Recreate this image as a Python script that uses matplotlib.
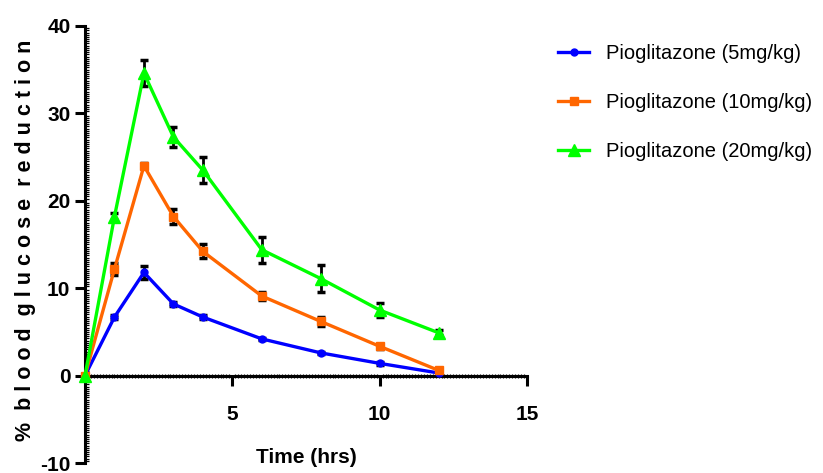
import numpy as np
from matplotlib import pyplot as plt
from matplotlib.ticker import MultipleLocator

# time points (hrs)
time = [0, 1, 2, 3, 4, 6, 8, 10, 12]

# % blood glucose reduction, mean and error
pio5 = [0, 6.7, 11.8, 8.2, 6.7, 4.2, 2.6, 1.4, 0.3]
pio5_err = [0, 0.2, 0.7, 0.2, 0.2, 0.15, 0.15, 0.15, 0.1]
pio10 = [0, 12.2, 24.0, 18.2, 14.2, 9.1, 6.2, 3.35, 0.6]
pio10_err = [0, 0.7, 0.3, 0.85, 0.8, 0.5, 0.5, 0.3, 0.2]
pio20 = [0, 18.2, 34.6, 27.3, 23.5, 14.4, 11.1, 7.5, 4.9]
pio20_err = [0, 0.4, 1.5, 1.1, 1.5, 1.5, 1.5, 0.8, 0.3]

labels = ['Pioglitazone (5mg/kg)', 'Pioglitazone (10mg/kg)', 'Pioglitazone (20mg/kg)']
colors = ['#0000FF', '#FF6600', '#00FF00']
markers = ['o', 's', '^']
msizes = [5, 6, 8]

plt.rcParams['font.family'] = ['Liberation Sans', 'DejaVu Sans']
plt.rcParams['axes.unicode_minus'] = False

fig = plt.figure(figsize=(8.23, 4.73), dpi=100)
ax = fig.add_axes([0.1033, 0.0211, 0.537, 0.924])

series = [(pio5, pio5_err), (pio10, pio10_err), (pio20, pio20_err)]
handles = []
for (vals, errs), lab, c, m, ms in zip(series, labels, colors, markers, msizes):
    ax.errorbar(time, vals, yerr=errs, fmt='none', ecolor='black',
                elinewidth=2, capsize=3, capthick=2.5, zorder=2)
    h, = ax.plot(time, vals, color=c, lw=2.4, marker=m, ms=ms,
                 markeredgecolor=c, label=lab, zorder=3, clip_on=False)
    handles.append(h)

ax.set_xlim(0, 15)
ax.set_ylim(-10, 40)

ax.spines['top'].set_visible(False)
ax.spines['right'].set_visible(False)
ax.spines['bottom'].set_position(('data', 0))
ax.spines['left'].set_linewidth(2.2)
ax.spines['bottom'].set_linewidth(2.2)

ax.set_xticks([5, 10, 15])
ax.set_yticks([-10, 0, 10, 20, 30, 40])
ax.xaxis.set_minor_locator(MultipleLocator(0.1))
ax.yaxis.set_minor_locator(MultipleLocator(0.25))
ax.tick_params(axis='both', which='major', length=7, width=2.2, labelsize=15)
ax.tick_params(axis='x', which='major', pad=14)
ax.tick_params(axis='x', which='minor', direction='inout', length=3.5, width=0.9)
ax.tick_params(axis='y', which='minor', direction='in', length=3, width=0.9)
for t in ax.get_xticklabels() + ax.get_yticklabels():
    t.set_fontweight('bold')

ax.set_xlabel('Time (hrs)', fontsize=15, fontweight='bold')
ax.xaxis.set_label_coords(0.5, 0.035)

# spaced-out y label like the original
ylab = '  '.join(' '.join(w) for w in '% blood glucose reduction'.split(' '))
ax.set_ylabel(ylab, fontsize=15.5, fontweight='bold')
ax.yaxis.set_label_coords(-0.11, 0.51)

fig.legend(handles=handles, labels=labels, loc='upper left',
           bbox_to_anchor=(0.678, 0.907), frameon=False, fontsize=14.5,
           borderaxespad=0, borderpad=0,
           handlelength=1.55, handletextpad=0.85, labelspacing=1.5)

plt.savefig('out.png', dpi=100)
